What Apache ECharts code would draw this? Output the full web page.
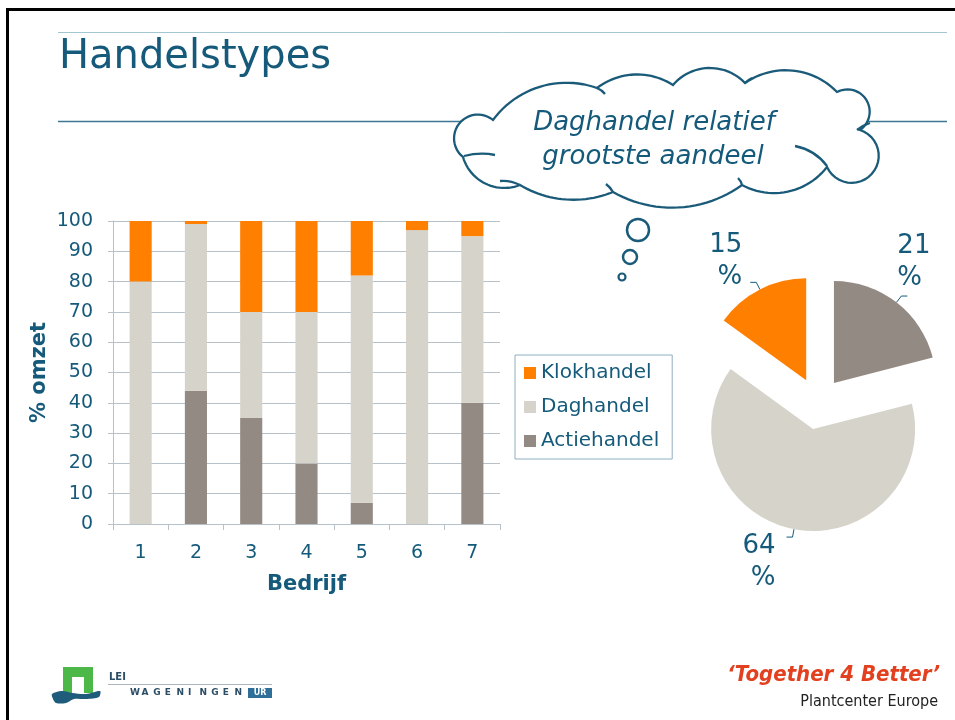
<!DOCTYPE html>
<html><head><meta charset="utf-8">
<script src="https://cdn.jsdelivr.net/npm/echarts@6/dist/echarts.min.js"></script>
<style>html,body{margin:0;padding:0;background:#fff}#c{width:955px;height:720px}</style>
</head><body><div id="c"></div>
<script>
// ---- data ----
const categories = ['1','2','3','4','5','6','7'];
const actiehandel = [0,44,35,20,7,0,40];
const daghandel = [80,55,35,50,75,97,55];
const klokhandel = [20,1,30,30,18,3,5];
const seriesNames = ['Actiehandel','Daghandel','Klokhandel'];
const legendOrder = ['Klokhandel','Daghandel','Actiehandel'];
const pieValues = [21,64,15];
const titleText = 'Handelstypes';
const cloudLines = ['Daghandel relatief','grootste aandeel'];
const xAxisName = 'Bedrijf';
const yAxisName = '% omzet';

// ---- styles ----
const TEAL = '#155a7a';
const CLOUD = '#1b5b7a';
const GRIDC = '#b7c1c9';
const COLORS = {Actiehandel:'#948a84', Daghandel:'#d6d3cb', Klokhandel:'#ff7f00'};
const FONT = "'DejaVu Sans', Verdana, sans-serif";
const NARROW = "'Liberation Sans Narrow', 'DejaVu Sans Condensed', 'Liberation Sans', sans-serif";
// label nudges for the pie labels (style only)
const pieLabelShift = [[-15,-34],[-6,25],[-3,-21]];

// cloud outline (decoration): junction points and bump heights
const cloudPts = [[493,120],[597,88],[673,85],[745,83],[837,92],[860,130],[827,167],[742,185],[613,192],[520,185],[463,157]];
const cloudBulge = [18,12,16,17,21,38,16,19,11,14,24];
function cloudPolygon(){
  const out = [];
  for (let i = 0; i < cloudPts.length; i++) {
    const p1 = cloudPts[i], p2 = cloudPts[(i + 1) % cloudPts.length];
    const dx = p2[0]-p1[0], dy = p2[1]-p1[1];
    const c = Math.hypot(dx, dy);
    const h = cloudBulge[i];
    const r = (h*h + c*c/4) / (2*h);
    const tx = dx/c, ty = dy/c;
    const nx = ty, ny = -tx; // outward normal
    const mx = (p1[0]+p2[0])/2, my = (p1[1]+p2[1])/2;
    const cx = mx - nx*(r-h), cy = my - ny*(r-h);
    let a1 = Math.atan2(p1[1]-cy, p1[0]-cx);
    let a2 = Math.atan2(p2[1]-cy, p2[0]-cx);
    while (a2 <= a1) a2 += Math.PI*2;
    const N = 24;
    for (let k = 0; k < N; k++) {
      const a = a1 + (a2-a1)*k/N;
      out.push([cx + r*Math.cos(a), cy + r*Math.sin(a)]);
    }
  }
  return out;
}
const hooks = [
  [464,156, 480,152, 495,155],
  [827,166, 815,150, 795,146],
  [857,130, 863,125, 870,123],
  [613,192, 610,187, 606,184],
  [520,185, 510,180, 500,181],
  [597,88, 602,90, 605,94],
  [745,83, 748,80, 752,78],
  [742,185, 741,181, 738,178]
];

const graphics = [
  // slide frame
  {type:'rect', shape:{x:7,y:8,width:950,height:3}, style:{fill:'#000'}, z:1},
  {type:'rect', shape:{x:6,y:8,width:3,height:720}, style:{fill:'#000'}, z:1},
  // title rules
  {type:'line', shape:{x1:58,y1:32.5,x2:947,y2:32.5}, style:{stroke:'#a3c6d2',lineWidth:1}, z:1},
  {type:'line', shape:{x1:58,y1:121.5,x2:947,y2:121.5}, style:{stroke:'#3d7792',lineWidth:1.3}, z:1},
  {type:'text', x:59, y:58, style:{text:titleText, fill:TEAL, font:'40px ' + FONT, verticalAlign:'middle'}, z:2},
  // cloud
  {type:'polygon', shape:{points:cloudPolygon()}, style:{fill:'#fff', stroke:CLOUD, lineWidth:2.3}, z:5},
  ...hooks.map(h => ({type:'bezierCurve', shape:{x1:h[0],y1:h[1],cpx1:h[2],cpy1:h[3],x2:h[4],y2:h[5]}, style:{fill:null, stroke:CLOUD, lineWidth:2.3}, z:6})),
  {type:'text', x:654, y:123, style:{text:cloudLines[0], fill:TEAL, font:'italic 26px ' + FONT, align:'center', verticalAlign:'middle'}, z:7},
  {type:'text', x:653, y:157, style:{text:cloudLines[1], fill:TEAL, font:'italic 26px ' + FONT, align:'center', verticalAlign:'middle'}, z:7},
  {type:'circle', shape:{cx:638,cy:230,r:11}, style:{fill:'#fff', stroke:CLOUD, lineWidth:2.5}, z:5},
  {type:'circle', shape:{cx:630,cy:257,r:7}, style:{fill:'#fff', stroke:CLOUD, lineWidth:2.5}, z:5},
  {type:'circle', shape:{cx:622,cy:277,r:3.5}, style:{fill:'#fff', stroke:CLOUD, lineWidth:2.2}, z:5},
  // logo LEI Wageningen UR
  {type:'polygon', shape:{points:[[63,667],[93,667],[93,693],[84,693],[84,677],[72,677],[72,693],[63,693]]}, style:{fill:'#4cb848'}, z:3},
  {type:'polygon', shape:{smooth:0.3, points:[[52,694],[62,691],[72,693],[86,694],[100,691],[99,697],[86,699],[74,699],[66,703],[56,703],[53,699]]}, style:{fill:'#1f5b7b'}, z:3},
  {type:'text', x:109, y:677, style:{text:'LEI', fill:'#2b4d66', font:'bold 10px ' + FONT, verticalAlign:'middle'}, z:3},
  {type:'line', shape:{x1:108,y1:684.5,x2:272,y2:684.5}, style:{stroke:'#aab7c1',lineWidth:1}, z:3},
  ...'WAGENINGEN'.split('').map((ch,i) => ({type:'text', x:130 + i*11.6, y:693, style:{text:ch, fill:'#2b4d66', font:'bold 9px ' + FONT, verticalAlign:'middle'}, z:3})),
  {type:'rect', shape:{x:248,y:688,width:24,height:10}, style:{fill:'#2d6f98'}, z:3},
  {type:'text', x:260, y:693, style:{text:'UR', fill:'#fff', font:'bold 8px ' + FONT, align:'center', verticalAlign:'middle'}, z:4},
  // footer right
  {type:'text', x:940, y:675, style:{text:'\u2018Together 4 Better\u2019', fill:'#e2401f', font:'italic bold 22px ' + NARROW, align:'right', verticalAlign:'middle'}, z:3},
  {type:'text', x:938, y:702, style:{text:'Plantcenter Europe', fill:'#222', font:'16px ' + NARROW, align:'right', verticalAlign:'middle'}, z:3}
];

const barSeries = seriesNames.map((n, i) => ({
  name: n, type: 'bar', stack: 'total', barWidth: '40%',
  data: [actiehandel, daghandel, klokhandel][i],
  itemStyle: {color: COLORS[n]},
  emphasis: {disabled: true}
}));

const option = {
  animation: false,
  textStyle: {fontFamily: FONT},
  grid: {left: 113, top: 221, right: 455, bottom: 196, containLabel: false},
  legend: {
    orient: 'vertical', left: 515, top: 355, data: legendOrder,
    icon: 'rect', itemWidth: 12, itemHeight: 12, itemGap: 14,
    borderColor: '#8fb0c0', borderWidth: 1, padding: [8, 13, 8, 9],
    textStyle: {color: TEAL, fontSize: 20, fontFamily: FONT},
    selectedMode: false
  },
  xAxis: {
    type: 'category', data: categories,
    axisLine: {lineStyle: {color: GRIDC}},
    axisTick: {show: true, length: 6, lineStyle: {color: GRIDC}},
    axisLabel: {color: TEAL, fontSize: 19, margin: 20},
    name: xAxisName, nameLocation: 'middle', nameGap: 50,
    nameTextStyle: {color: TEAL, fontSize: 21, fontWeight: 'bold'}
  },
  yAxis: {
    type: 'value', min: 0, max: 100, interval: 10,
    axisLine: {show: true, lineStyle: {color: GRIDC}},
    axisTick: {show: true, length: 5, lineStyle: {color: GRIDC}},
    splitLine: {lineStyle: {color: GRIDC}},
    axisLabel: {color: TEAL, fontSize: 19, margin: 20},
    name: yAxisName, nameLocation: 'middle', nameGap: 63,
    nameTextStyle: {color: TEAL, fontSize: 21, fontWeight: 'bold'}
  },
  series: [
    ...barSeries,
    {
      type: 'pie', center: [818, 403.5], radius: 102, startAngle: 90, clockwise: true,
      selectedMode: 'multiple', selectedOffset: 26, silent: true,
      data: seriesNames.map((n, i) => ({name: n, value: pieValues[i], selected: true, itemStyle: {color: COLORS[n]}})),
      label: {show: true, position: 'outside', formatter: '{c}\n%', color: TEAL, fontSize: 26, lineHeight: 32, align: 'center', fontFamily: FONT},
      labelLine: {show: true, length: 8, length2: 6, lineStyle: {color: TEAL, width: 1}},
      labelLayout: function (p) { const s = pieLabelShift[p.dataIndex]; return {dx: s[0], dy: s[1]}; },
      emphasis: {disabled: true}
    }
  ],
  graphic: graphics
};

const chart = echarts.init(document.getElementById('c'), null, {renderer: 'canvas'});
chart.setOption(option);
</script>
</body></html>
